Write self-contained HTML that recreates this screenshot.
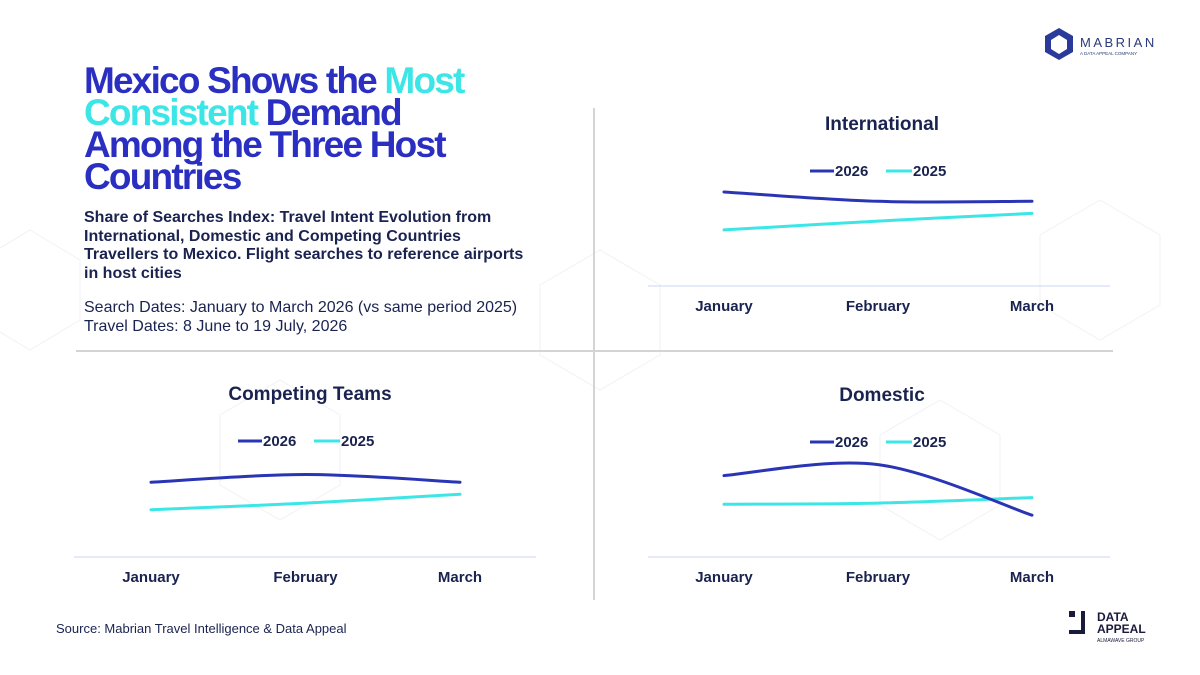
<!DOCTYPE html>
<html><head><meta charset="utf-8"><style>
body{margin:0;width:1200px;height:675px;overflow:hidden;background:#fff;font-family:"Liberation Sans",sans-serif;position:relative}
.abs{position:absolute}
.title{left:84px;top:65px;font-size:37px;line-height:32px;font-weight:900;color:#2a2fc2;letter-spacing:-1.8px;width:520px;white-space:nowrap}
.cy{color:#3de6e6}
.sub{left:84px;top:209px;font-size:16px;line-height:18.5px;font-weight:bold;color:#1a2350;width:520px;white-space:nowrap}
.dates{left:84px;top:298px;font-size:16px;line-height:19px;color:#1a2350;white-space:nowrap}
.src{left:56px;top:621px;font-size:13px;color:#1a2350}
svg text{font-family:"Liberation Sans",sans-serif}
</style></head><body>
<svg class="abs" style="left:0;top:0" width="1200" height="675">
<g id="bg" opacity="0.25" stroke="#c9ccd2" fill="none" stroke-width="1">
<path d="M600 250 l60 35 v70 l-60 35 l-60 -35 v-70z"/><path d="M940 400 l60 35 v70 l-60 35 l-60 -35 v-70z"/><path d="M280 380 l60 35 v70 l-60 35 l-60 -35 v-70z"/><path d="M1100 200 l60 35 v70 l-60 35 l-60 -35 v-70z"/><path d="M30 230 l50 30 v60 l-50 30 l-50 -30 v-60z"/>
</g>
<line x1="594" y1="108" x2="594" y2="600" stroke="#d4d4d4" stroke-width="2"/>
<line x1="76" y1="351" x2="1113" y2="351" stroke="#d4d4d4" stroke-width="2"/>
<g id="charts"></g>
<g>
<polygon points="1059,28 1073,36 1073,52 1059,60 1045,52 1045,36" fill="#2a3a9a"/>
<polygon points="1059,35 1067,40 1067,49 1059,54 1051,49 1051,40" fill="#fff"/>
<text x="1080" y="47" font-size="13" fill="#2a3a7a" letter-spacing="2.5">MABRIAN</text>
<text x="1080" y="55" font-size="4.5" fill="#2a3a7a">A DATA APPEAL COMPANY</text>
</g>
<g>
<rect x="1069" y="611" width="6" height="6" fill="#1a1a3a"/><rect x="1081" y="611" width="4" height="23" fill="#1a1a3a"/><rect x="1069" y="630" width="16" height="4" fill="#1a1a3a"/>
<text x="1097" y="621" font-size="12" font-weight="900" fill="#1a1a3a">DATA</text>
<text x="1097" y="633" font-size="12" font-weight="900" fill="#1a1a3a">APPEAL</text>
<text x="1097" y="642" font-size="5" fill="#1a1a3a">ALMAWAVE GROUP</text>
</g>
</svg>
<div class="abs title">Mexico Shows the <span class="cy">Most</span><br><span class="cy">Consistent</span> Demand<br>Among the Three Host<br>Countries</div>
<div class="abs sub">Share of Searches Index: Travel Intent Evolution from<br>International, Domestic and Competing Countries<br>Travellers to Mexico. Flight searches to reference airports<br>in host cities</div>
<div class="abs dates">Search Dates: January to March 2026 (vs same period 2025)<br>Travel Dates: 8 June to 19 July, 2026</div>
<div class="abs src">Source: Mabrian Travel Intelligence &amp; Data Appeal</div>
<script>
const categories=["January","February","March"];
const intl2026=[85.5,77,77];
const intl2025=[51,59,66];
const comp2026=[68,75,68];
const comp2025=[43,49,57];
const dom2026=[74,84,38];
const dom2025=[48,49,54];
const NS="http://www.w3.org/2000/svg";
const g=document.getElementById('charts');
function mk(t,a){const e=document.createElementNS(NS,t);for(const k in a)e.setAttribute(k,a[k]);g.appendChild(e);return e;}
function chart(o){
  const xs=i=>o.x0+i*o.dx;
  const ys=v=>o.base-v*o.h/100;
  let e=mk('text',{x:o.cx,y:o.ty,'font-size':19,'font-weight':'bold',fill:'#1a2350','text-anchor':'middle'});e.textContent=o.title;
  
  
  const lx=o.cx-72,ly=o.ty+46;
  e=mk('line',{x1:lx,y1:ly-5,x2:lx+24,y2:ly-5,stroke:'#2a35b5','stroke-width':3});
  
  
  e=mk('text',{x:lx+25,y:ly,'font-size':15,'font-weight':'bold',fill:'#1a2350'});e.textContent='2026';
  
  
  e=mk('line',{x1:lx+76,y1:ly-5,x2:lx+102,y2:ly-5,stroke:'#3de6e6','stroke-width':3});
  
  
  e=mk('text',{x:lx+103,y:ly,'font-size':15,'font-weight':'bold',fill:'#1a2350'});e.textContent='2025';
  
  
  e=mk('line',{x1:o.ax1,y1:o.base,x2:o.ax2,y2:o.base,stroke:'#c8d4f0','stroke-width':1});
  
  
  categories.forEach((c,i)=>{const t=mk('text',{x:xs(i),y:o.base+25,'font-size':15,'font-weight':'bold',fill:'#1a2350','text-anchor':'middle'});t.textContent=c;
    
    });
  [[o.s25,'#3de6e6','2025'],[o.s26,'#2a35b5','2026']].forEach(([s,col,n])=>{
    const p=s.map((v,i)=>[xs(i),ys(v)]);
    let d='M'+p[0][0]+' '+p[0][1];
    for(let i=0;i<p.length-1;i++){const p0=p[Math.max(i-1,0)],p1=p[i],p2=p[i+1],p3=p[Math.min(i+2,p.length-1)];
      d+=' C'+(p1[0]+(p2[0]-p0[0])/6)+' '+(p1[1]+(p2[1]-p0[1])/6)+' '+(p2[0]-(p3[0]-p1[0])/6)+' '+(p2[1]-(p3[1]-p1[1])/6)+' '+p2[0]+' '+p2[1];}
    const l=mk('path',{d:d,fill:'none',stroke:col,'stroke-width':3,'stroke-linecap':'round'});
    
    
  });
}
chart({key:'international',title:'International',cx:882,ty:130,x0:724,dx:154,base:286,h:110,ax1:648,ax2:1110,s26:intl2026,s25:intl2025});
chart({key:'competing-teams',title:'Competing Teams',cx:310,ty:400,x0:151,dx:154.5,base:557,h:110,ax1:74,ax2:536,s26:comp2026,s25:comp2025});
chart({key:'domestic',title:'Domestic',cx:882,ty:401,x0:724,dx:154,base:557,h:110,ax1:648,ax2:1110,s26:dom2026,s25:dom2025});
</script>
</body></html>
